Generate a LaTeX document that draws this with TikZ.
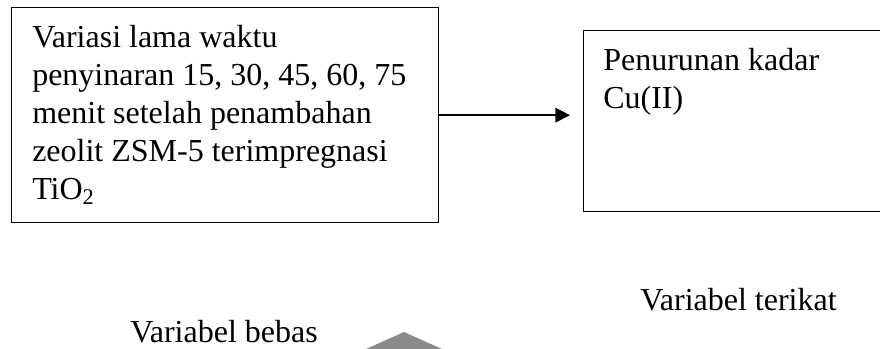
\documentclass[tikz,border=0pt]{standalone}
\usepackage{fontspec}
\setmainfont{Liberation Serif}
\usetikzlibrary{arrows.meta}

\tikzset{
  varbox/.style={draw, line width=1pt, inner sep=0pt, anchor=north west},
  vartext/.style={anchor=north west, inner sep=0pt, align=left, font=\fontsize{24}{28.5}\selectfont},
  varlabel/.style={anchor=base, inner sep=0pt, font=\fontsize{24}{28.5}\selectfont},
}

\begin{document}
\begin{tikzpicture}[x=0.75pt,y=0.75pt,yscale=-1,xscale=1]
\useasboundingbox (0,0) rectangle (880,349);

%Shape: Rectangle (bebas)
\node [varbox, minimum width=320.25pt, minimum height=161.25pt] (lbox) at (11,7) {};
%Shape: Rectangle (terikat), runs off the right edge
\node [varbox, minimum width=227.25pt, minimum height=135.75pt] (rbox) at (583,30) {};

% Text Node
\node [vartext] (ltext) at (32,25) {Variasi lama waktu\\penyinaran 15, 30, 45, 60, 75\\menit setelah penambahan\\zeolit ZSM-5 terimpregnasi\\TiO\textsubscript{2}};
% Text Node
\node [vartext] (rtext) at (603,48) {Penurunan kadar\\Cu(II)};

%Straight Lines
\draw [line width=1pt, -{Triangle[length=11pt,width=11pt]}, shorten >=9.75pt] (lbox.east) -- (lbox.east -| rbox.west);

% Text Node
\node [varlabel] (lbebas) at (224,342) {Variabel bebas};
% Text Node
\node [varlabel] (lterikat) at (738.5,310) {Variabel terikat};

%Shape: grey mark at the bottom
\fill [color={rgb, 255:red, 138; green, 138; blue, 138 }] (366,349) -- (404,332) -- (442,349) -- cycle;

\end{tikzpicture}
\end{document}
